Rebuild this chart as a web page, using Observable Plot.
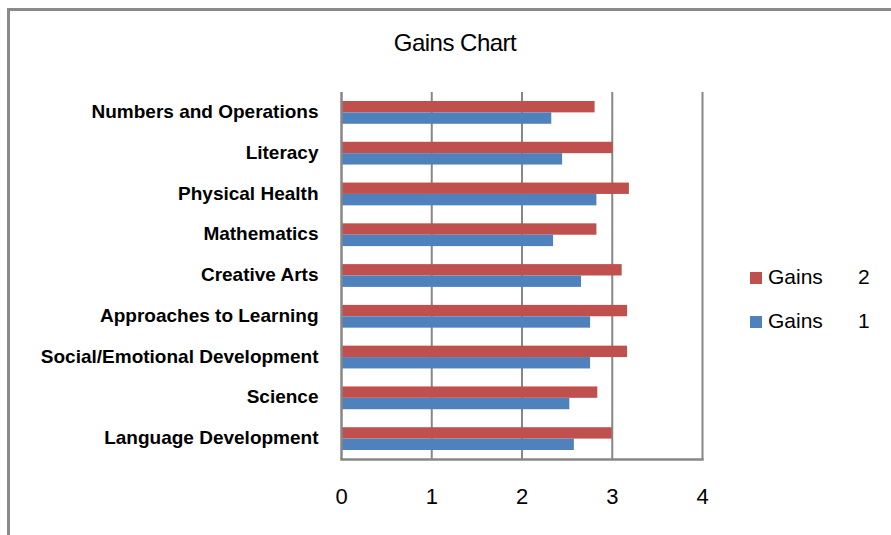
<!DOCTYPE html>
<html>
<head>
<meta charset="utf-8">
<script src="https://cdn.jsdelivr.net/npm/d3@7"></script>
<script src="https://cdn.jsdelivr.net/npm/@observablehq/plot@0.6"></script>
<style>
  html, body { margin: 0; padding: 0; background: #fff; }
  #wrap { position: relative; width: 891px; height: 535px; overflow: hidden; }
  #frame { position: absolute; left: 7px; top: 8px; width: 900px; height: 540px;
           border-left: 3px solid #8a8a8a; border-top: 3px solid #8a8a8a; box-sizing: border-box; }
  #title { position: absolute; left: 0; width: 910px; top: 29px; text-align: center;
           font-family: "Liberation Sans", Arial, sans-serif; font-size: 24px; color: #000; letter-spacing: -0.5px; }
  #legend { position: absolute; left: 750px; top: 265px; font-family: "Liberation Sans", Arial, sans-serif;
            font-size: 21px; color: #000; }
  .li { position: relative; height: 44px; }
  .sw { position: absolute; left: 0; top: 7px; width: 12px; height: 12px; }
  .lt { position: absolute; left: 18px; top: 0; }
  .ln { position: absolute; left: 108px; top: 0; }
  #chart { position: absolute; left: 0; top: 0; }
</style>
</head>
<body>
<div id="wrap">
  <div id="frame"></div>
  <div id="title">Gains Chart</div>
  <div id="chart"></div>
  <div id="legend"></div>
</div>
<script>
const categories = [
  "Numbers and Operations",
  "Literacy",
  "Physical Health",
  "Mathematics",
  "Creative Arts",
  "Approaches to Learning",
  "Social/Emotional Development",
  "Science",
  "Language Development"
];
const gains2 = [2.81, 3.01, 3.19, 2.83, 3.11, 3.17, 3.17, 2.84, 3.00];
const gains1 = [2.33, 2.45, 2.83, 2.35, 2.66, 2.76, 2.76, 2.53, 2.58];
const xTicks = [0, 1, 2, 3, 4];
const seriesNames = ["Gains 2", "Gains 1"];
const seriesColors = ["#c0504d", "#4f81bd"];

const rows2 = categories.map((c, i) => ({category: c, value: gains2[i]}));
const rows1 = categories.map((c, i) => ({category: c, value: gains1[i]}));

const chart = Plot.plot({
  width: 891,
  height: 535,
  marginLeft: 341,
  marginRight: 189,
  marginTop: 92,
  marginBottom: 76,
  style: {background: "transparent", fontFamily: "Liberation Sans, Arial, sans-serif"},
  x: {domain: [0, 4], ticks: xTicks, label: null},
  y: {domain: categories, padding: 0, round: false, label: null},
  marks: [
    Plot.gridX(xTicks.slice(1), {stroke: "#878787", strokeOpacity: 1, strokeWidth: 2}),
    Plot.barX(rows2, {y: "category", x: "value", fill: seriesColors[0], insetTop: 9, insetBottom: 20.4}),
    Plot.barX(rows1, {y: "category", x: "value", fill: seriesColors[1], insetTop: 20.4, insetBottom: 9}),
    Plot.ruleX([0], {stroke: "#878787", strokeWidth: 2.5}),
    Plot.axisX({ticks: xTicks, tickFormat: d3.format("d"), tickSize: 0, tickPadding: 29, fontSize: 22, label: null,
      fontFamily: "Liberation Sans, Arial, sans-serif", fill: "#000"}),
    Plot.axisY({tickSize: 0, tickPadding: 23, fontSize: 19, fontWeight: "bold", label: null, dy: -1,
      fontFamily: "Liberation Sans, Arial, sans-serif", fill: "#000"}),
    Plot.frame({anchor: "bottom", stroke: "#878787", strokeWidth: 2.5, strokeOpacity: 1})
  ]
});
document.getElementById("chart").appendChild(chart);

const legend = document.getElementById("legend");
seriesNames.forEach((name, i) => {
  const parts = name.split(" ");
  const li = document.createElement("div");
  li.className = "li";
  li.innerHTML = `<span class="sw" style="background:${seriesColors[i]}"></span><span class="lt">${parts[0]}</span><span class="ln">${parts[1]}</span>`;
  legend.appendChild(li);
});
</script>
</body>
</html>
